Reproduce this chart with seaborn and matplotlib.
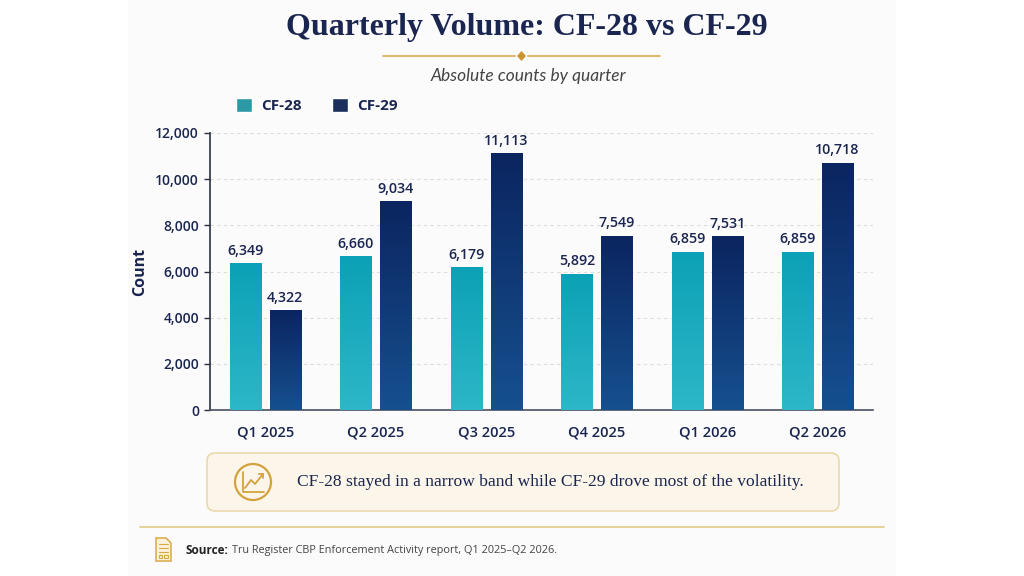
import numpy as np
import pandas as pd
import matplotlib
matplotlib.use("Agg")
import matplotlib.pyplot as plt
import seaborn as sns
from matplotlib.patches import Rectangle, FancyBboxPatch, Circle, Polygon
from matplotlib.colors import LinearSegmentedColormap

quarters = ["Q1 2025", "Q2 2025", "Q3 2025", "Q4 2025", "Q1 2026", "Q2 2026"]
series = ["CF-28", "CF-29"]
cf28 = [6349, 6660, 6179, 5892, 6859, 6859]
cf29 = [4322, 9034, 11113, 7549, 7531, 10718]
yticks = [0, 2000, 4000, 6000, 8000, 10000, 12000]

title = "Quarterly Volume: CF-28 vs CF-29"
subtitle = "Absolute counts by quarter"
callout = "CF-28 stayed in a narrow band while CF-29 drove most of the volatility."
source_lbl = "Source:"
source_txt = "Tru Register CBP Enforcement Activity report, Q1 2025\u2013Q2 2026."

df = pd.DataFrame({
    "quarter": quarters * 2,
    "series": [series[0]] * len(quarters) + [series[1]] * len(quarters),
    "count": cf28 + cf29,
})

NAVY = "#1a2550"
GOLD = "#d9b25a"
solid = {"CF-28": "#17a9bc", "CF-29": "#0f2b66"}
grad = {"CF-28": ("#2db7c7", "#0ca1b6"), "CF-29": ("#16508f", "#0b2560")}

sns.set_theme(style="white")
plt.rcParams["font.family"] = ["Open Sans", "DejaVu Sans"]

fig = plt.figure(figsize=(10.24, 5.76), dpi=100)
fig.patch.set_facecolor("white")

# overlay in pixel coordinates for the decorations
deco = fig.add_axes([0, 0, 1, 1], zorder=0)
deco.set_xlim(0, 1024)
deco.set_ylim(576, 0)
deco.axis("off")
deco.add_patch(Rectangle((128, 0), 768, 576, facecolor="#fbfbfb", edgecolor="none"))

deco.text(527, 28, title, ha="center", va="center", fontsize=23, fontweight="bold",
          family="Liberation Serif", color=NAVY)
deco.plot([383, 515], [56, 56], color=GOLD, lw=1.3)
deco.plot([528, 660], [56, 56], color=GOLD, lw=1.3)
deco.add_patch(Polygon([(521.5, 51), (526, 56), (521.5, 61), (517, 56)], closed=True,
                       facecolor="#c9952e", edgecolor="none"))
deco.text(528, 76, subtitle, ha="center", va="center", fontsize=12.5, style="italic",
          family="Lato", color="#444444")

# callout box
deco.add_patch(FancyBboxPatch((207, 453), 632, 58, boxstyle="round,pad=0,rounding_size=8",
                              facecolor="#fcf6ea", edgecolor="#ead9ac", lw=1.2))
deco.add_patch(Circle((253, 482), 18, facecolor="none", edgecolor="#d4a23c", lw=1.6))
deco.plot([243, 243, 264], [472, 492, 492], color="#d4a23c", lw=1.3)
deco.plot([245, 251, 255, 263], [488, 480, 484, 474], color="#d4a23c", lw=1.3)
deco.plot([259, 263, 263], [474, 474, 478], color="#d4a23c", lw=1.3)
deco.text(297, 482, callout, ha="left", va="center", fontsize=12.6,
          family="Liberation Serif", color=NAVY)

deco.plot([140, 884], [527, 527], color="#e3c98a", lw=1.2)

# source icon
deco.add_patch(Polygon([(156, 538), (166, 538), (171, 543), (171, 561), (156, 561)],
                       closed=True, facecolor="#fbf1dc", edgecolor="#d9a846", lw=1.1))
for yy in (544, 548, 552):
    deco.plot([159, 168], [yy, yy], color="#d9a846", lw=0.8)
deco.add_patch(Rectangle((159, 555), 3, 3, facecolor="none", edgecolor="#d9a846", lw=0.8))
deco.add_patch(Rectangle((164, 555), 4, 3, facecolor="none", edgecolor="#d9a846", lw=0.8))
deco.text(186, 550, source_lbl, ha="left", va="center", fontsize=8.5, fontweight="bold",
          color="#222222")
deco.text(232, 550, source_txt, ha="left", va="center", fontsize=7.8, color="#444444")

# main chart
ax = fig.add_axes([210 / 1024, 1 - 410 / 576, 663 / 1024, 277 / 576], zorder=1)
ax.set_facecolor("none")
sns.barplot(data=df, x="quarter", y="count", hue="series", order=quarters,
            hue_order=series, palette=solid, width=0.72, gap=0.22, ax=ax,
            legend=True, zorder=2)

for cont, name in zip(ax.containers, series):
    cmap = LinearSegmentedColormap.from_list(name, list(grad[name]))
    for bar in cont:
        x0, w, h = bar.get_x(), bar.get_width(), bar.get_height()
        img = ax.imshow(np.linspace(0, 1, 256).reshape(-1, 1), cmap=cmap, origin="lower",
                        extent=[x0, x0 + w, 0, h], aspect="auto", zorder=3)
        img.set_clip_path(bar)
    ax.bar_label(cont, labels=[f"{v:,.0f}" for v in cont.datavalues], padding=4,
                 fontsize=10.3, fontweight="semibold", color=NAVY, zorder=4)

ax.set_xlim(-0.5, len(quarters) - 0.5)
ax.set_ylim(0, 12000)
ax.set_yticks(yticks)
ax.set_yticklabels([f"{t:,}" for t in yticks])
ax.yaxis.grid(True, linestyle=(0, (3, 3)), color="#dddddd", lw=0.8, zorder=0)
ax.set_axisbelow(True)
ax.set_xlabel("")
ax.set_ylabel("Count", fontsize=11.5, fontweight="bold", color=NAVY, labelpad=5)
for s in ("top", "right"):
    ax.spines[s].set_visible(False)
ax.spines["left"].set_color("#2a2f45")
ax.spines["bottom"].set_color("#4a4f60")
ax.spines["left"].set_linewidth(1.2)
ax.spines["bottom"].set_linewidth(1.2)
ax.tick_params(axis="y", left=True, length=4, width=1, color="#2a2f45",
               labelsize=10, labelcolor=NAVY, pad=4)
ax.tick_params(axis="x", bottom=False, labelsize=10.5, labelcolor=NAVY, pad=5)
for lbl in ax.get_xticklabels() + ax.get_yticklabels():
    lbl.set_fontweight("semibold")

leg = ax.legend(loc="lower left", bbox_to_anchor=(222 / 1024, 1 - 127 / 576),
                bbox_transform=fig.transFigure, ncol=2, frameon=False,
                handlelength=1.05, handleheight=1.05, columnspacing=2.0, handletextpad=0.6,
                fontsize=11)
for t in leg.get_texts():
    t.set_fontweight("bold")
    t.set_color(NAVY)

fig.savefig("out.png", dpi=100)
